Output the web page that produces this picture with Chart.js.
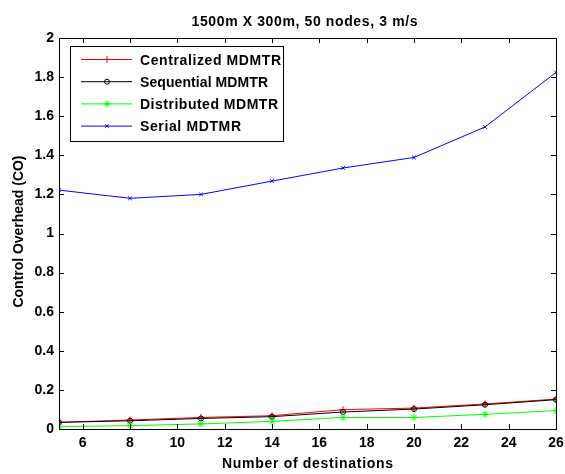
<!DOCTYPE html>
<html>
<head>
<meta charset="utf-8">
<title>Control Overhead</title>
<script src="https://cdn.jsdelivr.net/npm/chart.js@4.4.1/dist/chart.umd.min.js"></script>
<style>
    html, body { margin: 0; padding: 0; background: #fff; }
    #wrap { width: 565px; height: 474px; }
</style>
</head>
<body>
<div id="wrap"><canvas id="chart_co" width="565" height="474"></canvas></div>
<script>
//data
var destinations   = [5, 8, 11, 14, 17, 20, 23, 26];
var centralized    = [0.034, 0.046, 0.059, 0.068, 0.099, 0.107, 0.128, 0.153];
var sequential     = [0.034, 0.042, 0.054, 0.063, 0.087, 0.102, 0.124, 0.150];
var distributed    = [0.012, 0.017, 0.026, 0.039, 0.059, 0.059, 0.075, 0.094];
var serial         = [1.222, 1.180, 1.200, 1.268, 1.335, 1.389, 1.545, 1.824];
var xTickLabels    = [6, 8, 10, 12, 14, 16, 18, 20, 22, 24, 26];
var seriesNames    = ["Centralized MDMTR", "Sequential MDMTR", "Distributed MDMTR", "Serial MDTMR"];
var chartTitle     = "1500m X 300m, 50 nodes, 3 m/s";
var xTitle         = "Number of destinations";
var yTitle         = "Control Overhead (CO)";

var FONT = "'Liberation Sans', Arial, sans-serif";
var BOLD14 = 'bold 14px ' + FONT;

function toXY(xs, ys) {
    var pts = [];
    for (var i = 0; i < xs.length; i++) { pts.push({ x: xs[i], y: ys[i] }); }
    return pts;
}

//----------------------------------------------------------------------------------------------------------------------------
//spacedText: draws text one glyph at a time, spread out to a given width (matlab prints its labels a bit loose)
//  x is the centre of the text, y the baseline
//----------------------------------------------------------------------------------------------------------------------------
function spacedText(ctx, str, x, y, width) {
    var natural = ctx.measureText(str).width;
    var gap = str.length > 1 ? (width - natural) / (str.length - 1) : 0;
    var cx = x - width / 2;
    ctx.textAlign = 'left';
    ctx.textBaseline = 'alphabetic';
    for (var i = 0; i < str.length; i++) {
        ctx.fillText(str[i], cx, y);
        cx += ctx.measureText(str[i]).width + gap;
    }
}

//----------------------------------------------------------------------------------------------------------------------------
//matlabFrame: box round the plot, inward ticks, titles and the legend box
//----------------------------------------------------------------------------------------------------------------------------
var matlabFrame = {
    id: 'matlabFrame',
    afterDraw: function (chart) {
        var ctx = chart.ctx;
        var a = chart.chartArea;
        var xs = chart.scales.x, ys = chart.scales.y;
        ctx.save();
        ctx.strokeStyle = '#000';
        ctx.lineWidth = 1;
        ctx.strokeRect(Math.round(a.left) + 0.5, Math.round(a.top) + 0.5, Math.round(a.right - a.left), Math.round(a.bottom - a.top));

        ctx.beginPath();
        xTickLabels.forEach(function (v) {
            var px = Math.round(xs.getPixelForValue(v)) + 0.5;
            ctx.moveTo(px, a.bottom); ctx.lineTo(px, a.bottom - 5);
            ctx.moveTo(px, a.top); ctx.lineTo(px, a.top + 5);
        });
        ys.ticks.forEach(function (t) {
            var py = Math.round(ys.getPixelForValue(t.value)) + 0.5;
            ctx.moveTo(a.left, py); ctx.lineTo(a.left + 5, py);
            ctx.moveTo(a.right, py); ctx.lineTo(a.right - 5, py);
        });
        ctx.stroke();

        //titles
        ctx.fillStyle = '#000';
        ctx.font = BOLD14;
        spacedText(ctx, chartTitle, 304.5, 25.5, 226);
        spacedText(ctx, xTitle, (a.left + a.right) / 2, 468, 171);
        ctx.save();
        ctx.translate(22.5, (a.top + a.bottom) / 2 - 2);
        ctx.rotate(-Math.PI / 2);
        spacedText(ctx, yTitle, 0, 0, 152);
        ctx.restore();

        //legend
        var bx = 70, by = 46, bw = 213, bh = 95;
        ctx.fillStyle = '#fff';
        ctx.fillRect(bx, by, bw, bh);
        ctx.strokeStyle = '#000';
        ctx.strokeRect(bx + 0.5, by + 0.5, bw, bh);
        var textWidths = [141, 128, 138, 101];
        chart.data.datasets.forEach(function (ds, i) {
            var ry = 59.5 + i * 22.2;
            ctx.strokeStyle = ds.borderColor;
            ctx.fillStyle = ds.backgroundColor;
            ctx.lineWidth = 1;
            ctx.beginPath();
            ctx.moveTo(81, ry); ctx.lineTo(132, ry);
            ctx.stroke();
            Chart.helpers.drawPoint(ctx, {
                pointStyle: ds.pointStyle, radius: ds.pointRadius, borderWidth: 1
            }, 107, ry);
            ctx.fillStyle = '#000';
            ctx.font = BOLD14;
            spacedText(ctx, ds.label, 140 + textWidths[i] / 2, ry + 5, textWidths[i]);
        });
        ctx.restore();
    }
};

function DrawOverheadChart() {
    try {
        new Chart(document.getElementById("chart_co"), {
            type: 'line',
            data: {
                datasets: [
                    { label: seriesNames[0], data: toXY(destinations, centralized), borderColor: '#ff0000', backgroundColor: '#ff0000', pointStyle: 'cross', pointRadius: 3.5, order: 4 },
                    { label: seriesNames[1], data: toXY(destinations, sequential), borderColor: '#000000', backgroundColor: 'rgba(0,0,0,0)', pointStyle: 'circle', pointRadius: 2.5, order: 3 },
                    { label: seriesNames[2], data: toXY(destinations, distributed), borderColor: '#00ff00', backgroundColor: '#00ff00', pointStyle: 'star', pointRadius: 3.5, order: 2 },
                    { label: seriesNames[3], data: toXY(destinations, serial), borderColor: '#0000ff', backgroundColor: '#0000ff', pointStyle: 'crossRot', pointRadius: 2.5, order: 1 }
                ]
            },
            options: {
                responsive: false,
                animation: false,
                layout: { padding: { top: 38, right: 9, left: 0, bottom: 0 } },
                elements: {
                    line: { borderWidth: 1, tension: 0, fill: false },
                    point: { borderWidth: 1, hoverRadius: 3 }
                },
                plugins: {
                    legend: { display: false },
                    title: { display: false },
                    tooltip: { enabled: false }
                },
                scales: {
                    x: {
                        type: 'linear',
                        min: 5, max: 26,
                        afterBuildTicks: function (scale) {
                            scale.ticks = xTickLabels.map(function (v) { return { value: v }; });
                        },
                        afterFit: function (scale) {
                            scale.height = 45;
                            scale.paddingRight = 0;
                        },
                        grid: { display: false, drawTicks: false },
                        border: { display: false },
                        ticks: { color: '#000', padding: 6, maxRotation: 0, autoSkip: false, font: { family: FONT, size: 14, weight: 'bold' } }
                    },
                    y: {
                        min: 0, max: 2,
                        ticks: {
                            stepSize: 0.2, color: '#000', padding: 5, font: { family: FONT, size: 14, weight: 'bold' },
                            callback: function (v) { return String(Math.round(v * 10) / 10); }
                        },
                        afterFit: function (scale) { scale.width = 59; },
                        grid: { display: false, drawTicks: false },
                        border: { display: false }
                    }
                }
            },
            plugins: [matlabFrame]
        });
    }
    catch (e) {
        console.log("chart error: " + e.message);
    }
}

DrawOverheadChart();
</script>
</body>
</html>
